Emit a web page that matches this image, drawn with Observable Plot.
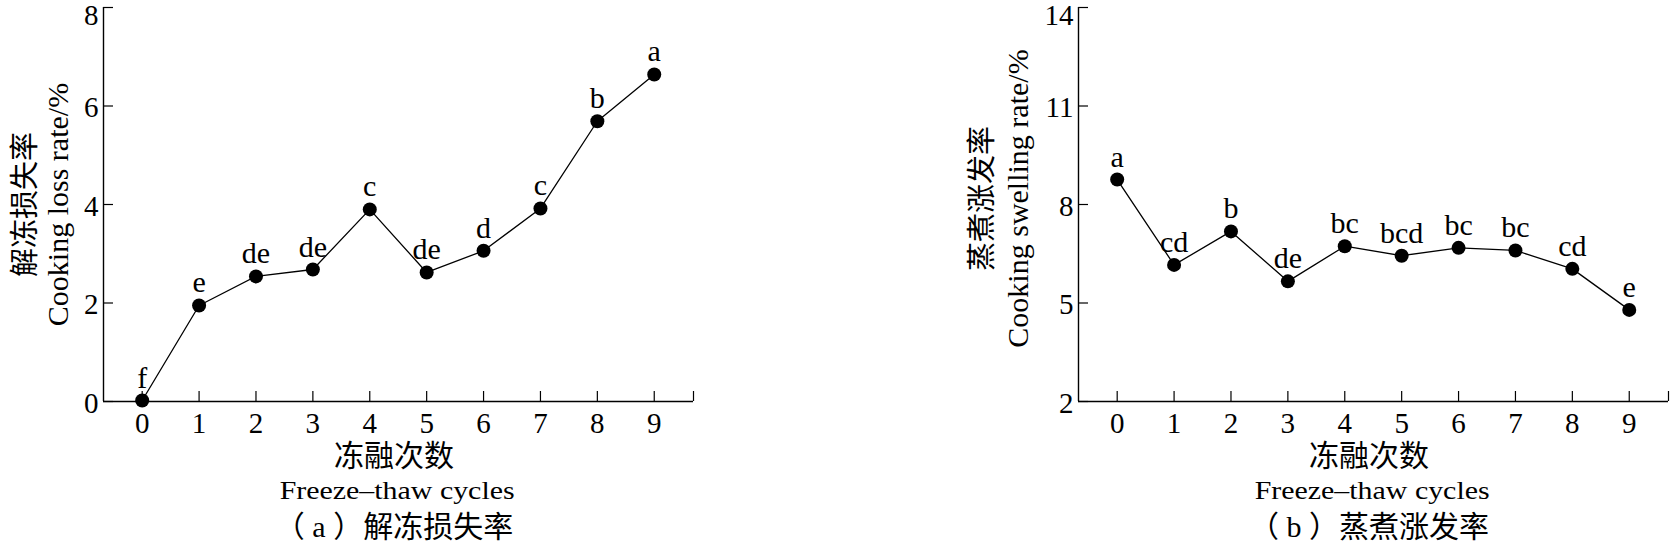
<!DOCTYPE html>
<html><head><meta charset="utf-8">
<script src="https://cdn.jsdelivr.net/npm/d3@7"></script>
<script src="https://cdn.jsdelivr.net/npm/@observablehq/plot@0.6"></script>
<style>
body{margin:0;background:#fff;}
#wrap{position:relative;width:1671px;height:546px;overflow:hidden;background:#fff;}
.panel{position:absolute;top:0;}
.t{position:absolute;text-align:center;color:#000;white-space:nowrap;line-height:40px;height:40px;
   font-family:"Liberation Serif","Noto Sans CJK SC",serif;}
.t span{display:inline-block;transform-origin:center;}
</style></head>
<body><div id="wrap"></div>
<script>
// ---- data ----
const cycles = [0, 1, 2, 3, 4, 5, 6, 7, 8, 9];
const lossRate = [0.02, 1.95, 2.54, 2.68, 3.90, 2.62, 3.06, 3.92, 5.69, 6.64];
const lossLetters = ["f", "e", "de", "de", "c", "de", "d", "c", "b", "a"];
const swellRate = [8.76, 6.16, 7.18, 5.66, 6.73, 6.44, 6.68, 6.60, 6.04, 4.79];
const swellLetters = ["a", "cd", "b", "de", "bc", "bcd", "bc", "bc", "cd", "e"];
const xTicks = [0, 1, 2, 3, 4, 5, 6, 7, 8, 9];
const xDomain = [-0.68, 9.69];
const lossTicks = [0, 2, 4, 6, 8];
const swellTicks = [2, 5, 8, 11, 14];
const xTitleZh = "冻融次数";
const xTitleEn = "Freeze–thaw cycles";
const lossTitleZh = "解冻损失率";
const lossTitleEn = "Cooking loss rate/%";
const swellTitleZh = "蒸煮涨发率";
const swellTitleEn = "Cooking swelling rate/%";
const captionA = "（ a ）解冻损失率";
const captionB = "（ b ）蒸煮涨发率";

const SERIF = "Liberation Serif, Noto Sans CJK SC, serif";
const CJK = "Noto Sans CJK SC, sans-serif";

function panel({left, width, values, letters, yTicks, titleZh, titleEn, caption, titleDx, titleDy}) {
  const mL = 103, mT = 7, plotH = 394, mB = 40, plotW = 590;
  const mR = width - mL - plotW;
  const yDomain = [yTicks[0], yTicks[yTicks.length - 1]];
  const data = cycles.map((c, i) => ({c, v: values[i], l: letters[i]}));
  const chart = Plot.plot({
    width, height: mT + plotH + mB,
    marginLeft: mL, marginRight: mR, marginTop: mT, marginBottom: mB,
    style: {fontFamily: SERIF, fontSize: "29px", background: "white", color: "black", overflow: "visible"},
    x: {domain: xDomain, label: null},
    y: {domain: yDomain, label: null},
    marks: [
      Plot.ruleX([xDomain[0]], {y1: yDomain[0], y2: yDomain[1], stroke: "black", strokeWidth: 1.4}),
      Plot.ruleY([yDomain[0]], {x1: xDomain[0], x2: xDomain[1], stroke: "black", strokeWidth: 1.4}),
      Plot.axisX({ticks: [...xTicks, xDomain[1]], tickSize: -10, text: null, label: null, strokeWidth: 1.2}),
      Plot.axisX({ticks: xTicks, tickSize: 0, tickPadding: 11, tickFormat: d => String(d), label: null, fontSize: 29}),
      Plot.axisY({ticks: yTicks, tickSize: -10, text: null, label: null, strokeWidth: 1.2}),
      Plot.axisY({ticks: yTicks.slice(0, -1), tickSize: 0, tickPadding: 5, dy: 2, tickFormat: d => String(d), label: null, fontSize: 29}),
      Plot.axisY({ticks: yTicks.slice(-1), tickSize: 0, tickPadding: 5, lineAnchor: "top", dy: -3, tickFormat: d => String(d), label: null, fontSize: 29}),
      Plot.text([titleZh], {text: d => d, frameAnchor: "left", textAnchor: "middle", lineAnchor: "middle", rotate: -90, dx: titleDx[0], dy: titleDy, fontSize: 29, fontFamily: CJK}),
      Plot.text([titleEn], {text: d => d, frameAnchor: "left", textAnchor: "middle", lineAnchor: "middle", rotate: -90, dx: titleDx[1], dy: titleDy, fontSize: 30}),
      Plot.line(data, {x: "c", y: "v", stroke: "black", strokeWidth: 1.3}),
      Plot.dot(data, {x: "c", y: "v", r: 7, fill: "black", stroke: "none"}),
      Plot.text(data, {x: "c", y: "v", text: "l", lineAnchor: "bottom", dy: -13, fontSize: 30})
    ]
  });
  const div = document.createElement("div");
  div.className = "panel";
  div.style.left = left + "px";
  div.style.width = width + "px";
  div.appendChild(chart);
  const lines = [
    {txt: xTitleZh, center: 456, size: 30, shift: -4, sx: 1},
    {txt: xTitleEn, center: 491, size: 26, shift: -1, sx: 1.15},
    {txt: caption, center: 527, size: 30, shift: -4, sx: 1}
  ];
  for (const ln of lines) {
    const t = document.createElement("div");
    t.className = "t";
    const s = document.createElement("span");
    s.textContent = ln.txt;
    s.style.transform = `scaleX(${ln.sx})`;
    t.appendChild(s);
    t.style.left = (mL + ln.shift) + "px";
    t.style.width = plotW + "px";
    t.style.top = (ln.center - 20) + "px";
    t.style.fontSize = ln.size + "px";
    div.appendChild(t);
  }
  document.getElementById("wrap").appendChild(div);
}

panel({left: 0, width: 720, values: lossRate, letters: lossLetters, yTicks: lossTicks,
       titleZh: lossTitleZh, titleEn: lossTitleEn, caption: captionA, titleDx: [-78, -45], titleDy: 0});
panel({left: 975, width: 696, values: swellRate, letters: swellLetters, yTicks: swellTicks,
       titleZh: swellTitleZh, titleEn: swellTitleEn, caption: captionB, titleDx: [-96, -60], titleDy: -6});
</script>
</body></html>
